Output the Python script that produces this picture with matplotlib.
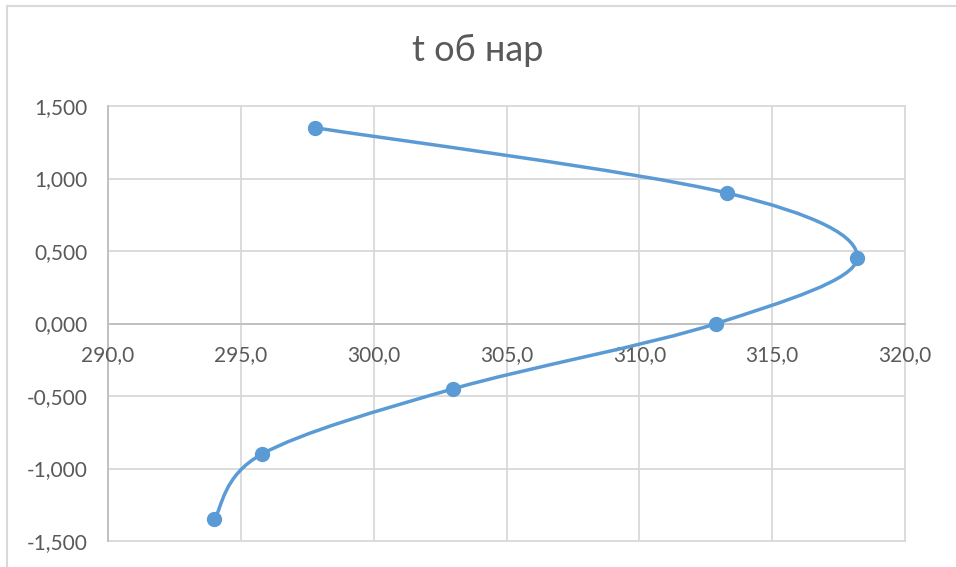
import numpy as np
import matplotlib
matplotlib.use("Agg")
import matplotlib.pyplot as plt
from matplotlib.path import Path
from matplotlib.patches import PathPatch
from matplotlib.lines import Line2D
from matplotlib.ticker import FuncFormatter

plt.rcParams['font.family'] = ['Lato', 'DejaVu Sans']

# Temperature (x) against position (y)
t_values = [297.8, 313.3, 318.2, 312.9, 303.0, 295.8, 294.0]
y_values = [1.35, 0.90, 0.45, 0.00, -0.45, -0.90, -1.35]

x_ticks = [290, 295, 300, 305, 310, 315, 320]
y_ticks = [-1.5, -1.0, -0.5, 0.0, 0.5, 1.0, 1.5]

title = "t об нар"

line_color = "#5B9BD5"
grid_color = "#D9D9D9"
axis_color = "#BFBFBF"
text_color = "#595959"

fig = plt.figure(figsize=(9.56, 5.67), dpi=100)
ax = fig.add_axes([108 / 956, 1 - 541 / 567, (905 - 108) / 956, (541 - 106) / 567])

# chart-area border
fig.add_artist(Line2D([7 / 956, 7 / 956], [0, 1 - 6 / 567], transform=fig.transFigure,
                      color=grid_color, lw=1.5))
fig.add_artist(Line2D([7 / 956, 1], [1 - 6 / 567, 1 - 6 / 567], transform=fig.transFigure,
                      color=grid_color, lw=1.5))

ax.set_xlim(290, 320)
ax.set_ylim(-1.5, 1.5)
ax.set_xticks(x_ticks)
ax.set_yticks(y_ticks)

for s in ax.spines.values():
    s.set_visible(False)
ax.set_facecolor('none')

# gridlines, including the ones on the plot-area edges
for xv in x_ticks:
    ax.axvline(xv, color=grid_color, lw=1.3, zorder=0, clip_on=False)
for yv in y_ticks:
    ax.axhline(yv, color=grid_color, lw=1.3, zorder=0, clip_on=False)

# axis lines: vertical at x=290, horizontal at y=0
ax.axvline(290, color=axis_color, lw=1.3, zorder=1, clip_on=False)
ax.axhline(0, color=axis_color, lw=1.3, zorder=1, clip_on=False)

ax.tick_params(axis='both', length=0, colors=text_color, labelsize=15)
ax.tick_params(axis='y', pad=15)
ax.yaxis.set_major_formatter(FuncFormatter(lambda v, p: f"{v:.3f}".replace('.', ',')))

# x tick labels sit under the y=0 axis line
ax.set_xticklabels([])
for xv in x_ticks:
    ax.annotate(f"{xv:.1f}".replace('.', ','), xy=(xv, 0), xycoords='data',
                xytext=(0, -23), textcoords='offset points',
                ha='center', va='center', color=text_color, fontsize=15,
                annotation_clip=False)

# smoothed line (Catmull-Rom style cubic Bezier segments)
P = np.column_stack([t_values, y_values])
n = len(P)
verts = [tuple(P[0])]
codes = [Path.MOVETO]
for i in range(n - 1):
    p_prev = P[i - 1] if i > 0 else P[i]
    p_next2 = P[i + 2] if i + 2 < n else P[i + 1]
    c1 = P[i] + (P[i + 1] - p_prev) / 6.0
    c2 = P[i + 1] - (p_next2 - P[i]) / 6.0
    verts += [tuple(c1), tuple(c2), tuple(P[i + 1])]
    codes += [Path.CURVE4, Path.CURVE4, Path.CURVE4]
ax.add_patch(PathPatch(Path(verts, codes), facecolor='none', edgecolor=line_color,
                       lw=2.5, capstyle='round', zorder=3))

ax.plot(t_values, y_values, linestyle='none', marker='o', markersize=10,
        color=line_color, zorder=4)

fig.text(0.5, 1 - 50 / 567, title, ha='center', va='center', fontsize=26,
         color=text_color)

fig.savefig("out.png", dpi=100, facecolor='white')
